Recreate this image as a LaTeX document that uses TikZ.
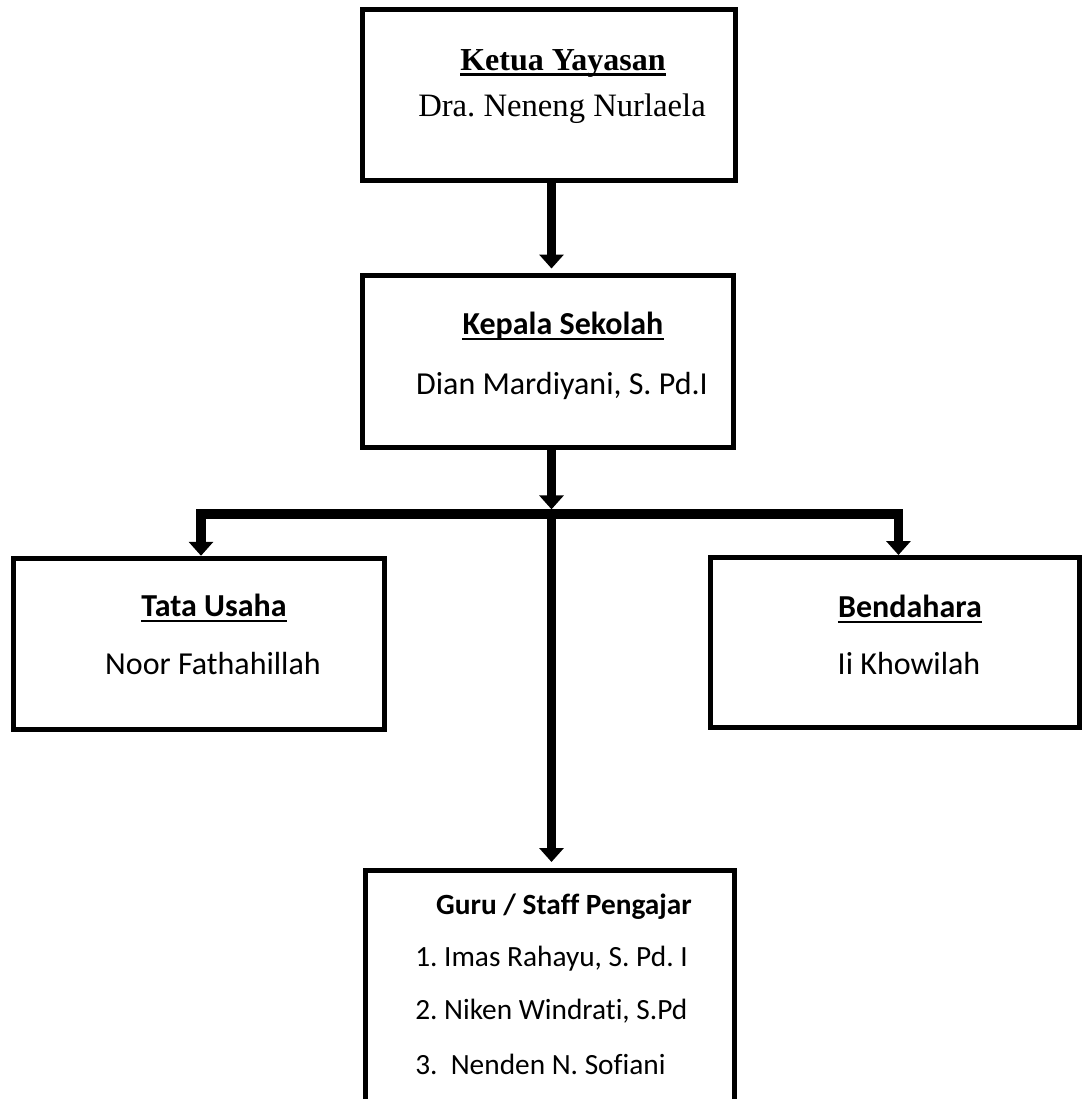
\documentclass[tikz,border=0pt]{standalone}
\usepackage{fontspec}
\setmainfont{Carlito}[Ligatures=NoCommon]
\newfontfamily\timesf{Liberation Serif}[Ligatures=NoCommon]
\usetikzlibrary{arrows.meta}
\frenchspacing
\begin{document}
\begin{tikzpicture}[x=0.75pt,y=-0.75pt,
  box/.style={draw, line width=3.75pt, inner sep=0pt},
  lbl/.style={inner sep=0pt, anchor=base},
  big/.style={font=\fontsize{24}{28}\selectfont},
  bigb/.style={font=\fontsize{24}{28}\selectfont\bfseries},
  serif/.style={font=\fontsize{24.5}{28}\selectfont\timesf},
  serifb/.style={font=\fontsize{24}{28}\selectfont\timesf\bfseries},
  small/.style={font=\fontsize{22}{26}\selectfont},
  smallb/.style={font=\fontsize{22}{26}\selectfont\bfseries},
  conn/.style={line width=7pt},
  arr/.style={conn, -{Triangle[width=18pt,length=10.5pt]}},
  arrboth/.style={conn, {Triangle[width=18pt,length=10.5pt]}-{Triangle[width=18pt,length=10.5pt]}},
  uline/.style={line width=1.8pt}]
\fill[white] (0,0) rectangle (1086,1099);
\useasboundingbox (0,0) rectangle (1086,1099);
\clip (0,0) rectangle (1086,1099);

% boxes
\node[box, minimum width=280pt, minimum height=127.5pt] (ketua) at (549,95) {};
\node[box, minimum width=278.25pt, minimum height=129pt] (kepala) at (547.5,361) {};
\node[box, minimum width=277.9pt, minimum height=128.6pt] (tata) at (199,644) {};
\node[box, minimum width=276.75pt, minimum height=127.5pt] (bend) at (895,642.5) {};
\node[box, minimum width=276.75pt, minimum height=195pt] (guru) at (550,1000.5) {};

% texts
\node[lbl, serifb] (ketuaT) at (563,71) {Ketua Yayasan};
\node[lbl, serif] (ketuaN) at (562,117) {Dra. Neneng Nurlaela};
\node[lbl, bigb] (kepalaT) at (563,334) {Kepala Sekolah};
\node[lbl, big] (kepalaN) at (562,394) {Dian Mardiyani, S. Pd.I};
\node[lbl, bigb] (tataT) at (214,616) {Tata Usaha};
\node[lbl, big] (tataN) at (213,674) {Noor Fathahillah};
\node[lbl, bigb] (bendT) at (910,617) {Bendahara};
\node[lbl, big] (bendN) at (909,674) {Ii Khowilah};
\node[lbl, smallb] (guruT) at (564,914) {Guru / Staff Pengajar};
\node[lbl, small, anchor=base west] (g1) at (415,966) {1. Imas Rahayu, S. Pd. I};
\node[lbl, small, anchor=base west] (g2) at (415,1019) {2. Niken Windrati, S.Pd};
\node[lbl, small, anchor=base west] (g3) at (415,1074) {3.\ \ Nenden N. Sofiani};

% underlines
\draw[uline] ([yshift=-2.6pt]ketuaT.base west) -- ([yshift=-2.6pt]ketuaT.base east);
\draw[uline] ([yshift=-3.8pt]kepalaT.base west) -- ([yshift=-3.8pt]kepalaT.base east);
\draw[uline] ([yshift=-3.8pt]tataT.base west) -- ([yshift=-3.8pt]tataT.base east);
\draw[uline] ([yshift=-3.8pt]bendT.base west) -- ([yshift=-3.8pt]bendT.base east);

% connectors
\coordinate (j) at (551.5,514);
\draw[arr, shorten >=3pt] (j |- ketua.south) -- (j |- kepala.north);
\draw[arr] (j |- kepala.south) -- ([yshift=3.5pt]j);
\draw[arrboth, line join=miter] ([xshift=1.5pt]tata.north) |- (j) -| ([xshift=2.6pt]bend.north);
\draw[arr, shorten >=4.5pt] ([yshift=3.5pt]j) -- (j |- guru.north);
\end{tikzpicture}
\end{document}
